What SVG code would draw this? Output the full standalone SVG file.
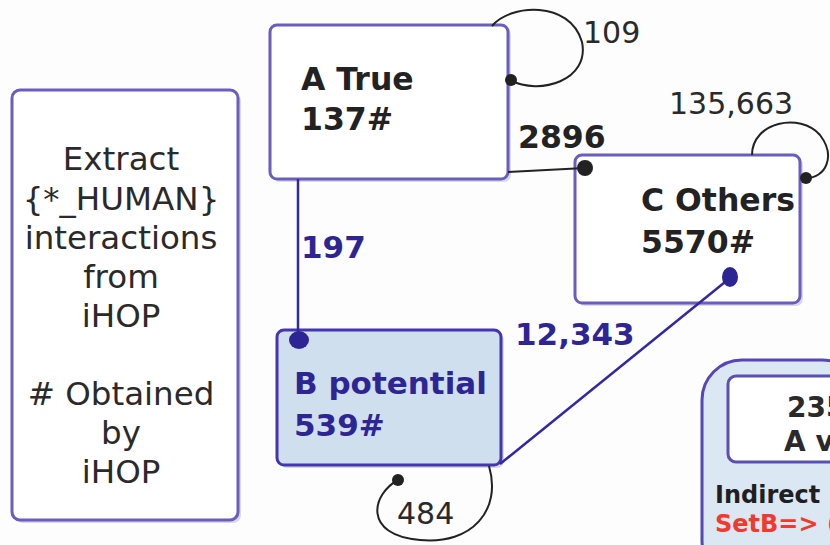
<svg xmlns="http://www.w3.org/2000/svg" width="830" height="545" viewBox="0 0 830 545">
<defs>
<style>
text{font-family:"DejaVu Sans","Verdana",sans-serif;}
.lbl{font-size:32.5px;fill:#2a2a2a;text-anchor:middle;}
.bold{font-weight:bold;font-size:31.5px;fill:#222;}
.navy{font-weight:bold;font-size:31px;fill:#2e2595;}
.num{font-size:30px;fill:#2a2a2a;}
.box{fill:#ffffff;stroke:#6b5dbf;stroke-width:3;}
.shadow{fill:#d9d9e0;}
.blk{fill:none;stroke:#222;stroke-width:2;}
.nv{fill:none;stroke:#3228a0;stroke-width:2.5;}
</style>
</defs>
<rect width="830" height="545" fill="#fdfdfd"/>

<g id="legend">
<rect class="shadow" x="15" y="93" width="226" height="430" rx="8"/>
<rect class="box" x="12" y="90" width="226" height="430" rx="8" fill="#fcfcfd"/>
<text class="lbl" x="121" y="170">Extract</text>
<text class="lbl" x="121" y="210">{*_HUMAN}</text>
<text class="lbl" x="121" y="249">interactions</text>
<text class="lbl" x="121" y="288">from</text>
<text class="lbl" x="121" y="327">iHOP</text>
<text class="lbl" x="121" y="405"># Obtained</text>
<text class="lbl" x="121" y="444">by</text>
<text class="lbl" x="121" y="483">iHOP</text>
</g>

<g id="nodeA">
<rect class="shadow" x="273" y="28" width="238" height="154" rx="7"/>
<rect class="box" x="270" y="25" width="238" height="154" rx="7"/>
<text class="bold" x="301" y="90">A True</text>
<text class="bold" x="301" y="130">137#</text>
</g>

<g id="nodeC">
<rect class="shadow" x="578" y="158" width="225" height="148" rx="7"/>
<rect class="box" x="575" y="155" width="225" height="148" rx="7"/>
<text class="bold" x="641" y="211">C Others</text>
<text class="bold" x="641" y="253">5570#</text>
</g>

<g id="nodeB">
<rect class="shadow" x="280" y="333" width="224" height="135" rx="7"/>
<rect x="277" y="330" width="224" height="135" rx="7" fill="#cfdfee" stroke="#4336b0" stroke-width="3"/>
<text class="navy" x="294" y="394">B potential</text>
<text class="navy" x="294" y="436">539#</text>
</g>

<g id="nodeD">
<rect x="702" y="360" width="160" height="220" rx="40" fill="#dbe7f2" stroke="#5447b8" stroke-width="3"/>
<rect x="728" y="376" width="130" height="86" rx="8" fill="#ffffff" stroke="#5a4fb5" stroke-width="3"/>
<text x="787" y="417" font-size="28" font-weight="bold" fill="#2a2a2a">235</text>
<text x="784" y="451" font-size="28" font-weight="bold" fill="#2a2a2a">A v</text>
<text x="715" y="503" font-size="24" font-weight="bold" fill="#1f1f1f">Indirect</text>
<text x="715" y="532" font-size="24" font-weight="bold" fill="#f03a2e">SetB=&gt; (</text>
</g>

<g id="connectors">
<path class="blk" d="M492,26 C510,4 570,0 582,42 C590,80 540,96 510,80"/>
<circle cx="511" cy="80" r="6" fill="#222"/>
<path class="blk" d="M508,172 L585,168"/>
<circle cx="585" cy="168" r="8" fill="#222"/>
<path class="blk" d="M752,155 C752,122 800,112 820,135 C836,156 826,178 806,178"/>
<circle cx="806" cy="178" r="6" fill="#222"/>
<path class="nv" d="M298,179 L298,338"/>
<ellipse cx="299" cy="340" rx="10" ry="9" fill="#2e2595"/>
<path class="nv" d="M500,464 L730,278"/>
<ellipse cx="730" cy="277" rx="8" ry="10" fill="#2e2595"/>
<path class="blk" d="M398,480 C372,494 362,535 420,540 C472,545 502,510 489,466"/>
<circle cx="398" cy="480" r="6" fill="#222"/>
</g>

<g id="labels">
<text class="num" x="583" y="43">109</text>
<text class="bold" x="518" y="148">2896</text>
<text class="num" x="669" y="114">135,663</text>
<text class="navy" x="301" y="258">197</text>
<text class="navy" x="515" y="345">12,343</text>
<text class="num" x="397" y="524">484</text>
</g>
</svg>
